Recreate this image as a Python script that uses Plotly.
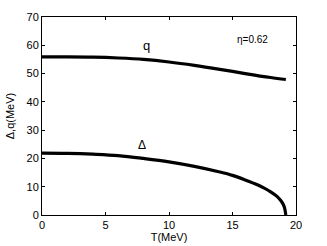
import plotly.graph_objects as go

T_q = [0, 2, 4, 6, 8, 10, 12, 14, 16, 18, 19.2]
q_vals = [55.9, 55.9, 55.8, 55.5, 55.0, 54.1, 52.9, 51.5, 50.0, 48.6, 47.9]

T_d = [0, 2, 4, 6, 8, 10, 12, 14, 15, 16, 17, 17.5, 18, 18.5, 18.8, 19.0, 19.1, 19.2]
d_vals = [21.9, 21.8, 21.5, 21.0, 20.0, 18.8, 17.2, 15.2, 14.0, 12.4, 10.6, 9.5, 8.2, 6.6, 5.1, 3.7, 2.5, 0.0]

fig = go.Figure()
fig.add_trace(go.Scatter(x=T_q, y=q_vals, mode="lines", line=dict(color="black", width=3.2, shape="spline"), showlegend=False))
fig.add_trace(go.Scatter(x=T_d, y=d_vals, mode="lines", line=dict(color="black", width=3.2, shape="spline"), showlegend=False))

font = dict(family="Liberation Sans, Arial, sans-serif", size=11, color="black")
fig.add_annotation(x=8.2, y=60.0, text="q", showarrow=False, font=dict(family="Liberation Sans, Arial", size=13, color="black"))
fig.add_annotation(x=7.9, y=24.8, text="Δ", showarrow=False, font=dict(family="Liberation Sans, Arial", size=12, color="black"))
fig.add_annotation(x=16.6, y=62.0, text="η=0.62", showarrow=False, font=dict(family="Liberation Sans, Arial", size=10, color="black"))

axis_common = dict(showline=True, linecolor="black", linewidth=1, mirror="ticks", ticks="inside",
                   ticklen=3, tickcolor="black", showgrid=False, zeroline=False, tickfont=font,
                   automargin=False)
fig.update_xaxes(range=[0, 20], tickvals=[0, 5, 10, 15, 20], title=dict(text="T(MeV)", font=font, standoff=1), **axis_common)
fig.update_yaxes(range=[0, 70], tickvals=[0, 10, 20, 30, 40, 50, 60, 70], title=dict(text="Δ,q(MeV)", font=font, standoff=9), **axis_common)

fig.update_layout(width=327, height=246, margin=dict(l=42, r=31, t=17, b=31),
                  plot_bgcolor="white", paper_bgcolor="white", font=font)
fig.write_html("out.html", config={"displayModeBar": False},
               post_script="document.body.style.margin='0';document.body.style.overflow='hidden';")
